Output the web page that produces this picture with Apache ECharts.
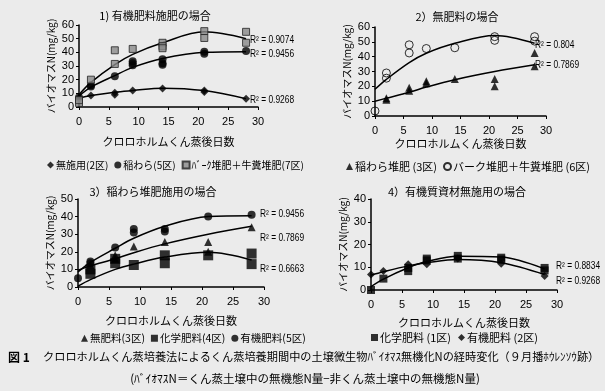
<!DOCTYPE html>
<html><head><meta charset="utf-8">
<script src="https://cdn.jsdelivr.net/npm/echarts@6/dist/echarts.min.js"></script>
<style>html,body{margin:0;padding:0;background:#ebebeb}#c{width:605px;height:391px}</style>
</head><body><div id="c"></div>
<script>
// ---- data ----
const fitX = [0, 2, 6, 9, 14, 21, 28];

// Panel 1
const p1NoneX = [0, 2, 6, 6, 9, 14, 21, 21, 28];
const p1NoneY = [6.5, 8.5, 10.5, 9, 12, 13.5, 12, 11, 6];
const p1StrawX = [0, 2, 2, 6, 9, 9, 9, 14, 14, 14, 21, 21, 28];
const p1StrawY = [7, 15, 16, 22.5, 33.5, 32, 30.5, 35, 32, 31, 40.5, 39, 41];
const p1BarkX = [0, 0, 2, 6, 6, 9, 14, 14, 14, 21, 21, 28, 28];
const p1BarkY = [3, 5, 20, 41.5, 31.5, 42.5, 47, 44.5, 43, 55.5, 50.5, 55, 47];
const p1NoneFit = [6.5, 8.4, 10.8, 12, 13.8, 12, 6];
const p1StrawFit = [8, 14.5, 23, 29, 35.5, 40, 40.5];
const p1BarkFit = [9, 18, 31, 38.5, 47, 55, 50];

// Panel 2
const p2BarkX = [0, 2, 2, 6, 6, 9, 14, 21, 21, 28, 28];
const p2BarkY = [3.4, 29, 25.5, 48, 42.5, 45.5, 46, 53.5, 51, 53.5, 50.5];
const p2StrawX = [2, 2, 6, 6, 9, 9, 14, 21, 21, 28, 28];
const p2StrawY = [12, 11, 19, 17, 23.5, 22, 25, 25, 20, 42.5, 33.5];
const p2BarkFit = [18, 24.7, 36, 42.3, 49, 54.3, 49];
const p2StrawFit = [10, 12, 16, 19.5, 24.5, 30, 34.5];

// Panel 3
const p3NoneX = [2, 6, 6, 9, 14, 21, 21, 28];
const p3NoneY = [12.5, 18, 16, 23, 25.5, 25.5, 20, 34];
const p3ChemX = [2, 2, 6, 6, 9, 14, 14, 21, 28, 28];
const p3ChemY = [10, 7.5, 16, 13.5, 12.5, 18, 13.5, 18, 19, 13];
const p3OrgX = [0, 2, 2, 6, 9, 9, 14, 14, 21, 28];
const p3OrgY = [5, 14.5, 13.5, 22.5, 33, 31, 33, 31.5, 40, 41];
const p3OrgFit = [8.5, 14, 22, 27.7, 34.5, 40, 40.5];
const p3NoneFit = [9.5, 12, 16, 19.5, 24.5, 30, 34.5];
const p3ChemFit = [0.5, 4.2, 10, 13, 17, 19.7, 15.3];

// Panel 4
const p4ChemX = [0, 2, 6, 6, 9, 9, 14, 14, 21, 21, 28, 28];
const p4ChemY = [0, 5, 9.7, 8.3, 13.8, 13, 15, 13.8, 14.2, 13.4, 9.7, 8.6];
const p4OrgX = [0, 2, 6, 9, 14, 21, 28];
const p4OrgY = [6.8, 8.3, 11.3, 11.3, 13.8, 11.5, 6.1];
const p4ChemFit = [1.5, 4.8, 9.8, 12.5, 14.8, 14.5, 9.3];
const p4OrgFit = [6.5, 8, 10.6, 12, 13.4, 12, 6.8];

const yMax = [60, 60, 50, 40];
const titles = ['1) 有機肥料施肥の場合', '2）無肥料の場合', '3）稲わら堆肥施用の場合', '4）有機質資材無施用の場合'];
const xName = 'クロロホルムくん蒸後日数';
const yName = 'バイオマスN(mg/kg)';

// ---- build ----
const JP = 'Noto Sans CJK JP';
const NUM = 'Liberation Sans';
const zip = (xs, ys) => xs.map((x, i) => [x, ys[i]]);
const grids = [
  {left: 79, top: 25, width: 179, height: 82},
  {left: 375, top: 27, width: 171, height: 89},
  {left: 78, top: 199, width: 186, height: 88},
  {left: 371, top: 199, width: 186, height: 91}
];
const xNameGap = [29, 22, 28, 27];
const xAxes = grids.map((g, i) => ({
  gridIndex: i, type: 'value', min: 0, max: 30, interval: 5,
  axisLine: {lineStyle: {color: '#000', width: 1.5}},
  axisTick: {length: 3, lineStyle: {color: '#000'}},
  splitLine: {show: false},
  axisLabel: {color: '#000', fontFamily: NUM, fontSize: 11, margin: 9},
  name: xName, nameLocation: 'middle', nameGap: xNameGap[i],
  nameTextStyle: {color: '#000', fontFamily: JP, fontSize: 11}
}));
const yAxes = grids.map((g, i) => ({
  gridIndex: i, type: 'value', min: 0, max: yMax[i], interval: 10,
  axisLine: {show: true, lineStyle: {color: '#000', width: 1.5}},
  axisTick: {show: true, length: 3, lineStyle: {color: '#000'}},
  splitLine: {show: false},
  axisLabel: {color: '#000', fontFamily: NUM, fontSize: 11, margin: 5},
  name: yName, nameLocation: 'middle', nameRotate: 90, nameGap: 23,
  nameTextStyle: {color: '#000', fontFamily: JP, fontSize: 10}
}));
function sc(name, i, xs, ys, symbol, size, extra) {
  return Object.assign({name, type: 'scatter', xAxisIndex: i, yAxisIndex: i, data: zip(xs, ys),
    symbol, symbolSize: size, itemStyle: {color: '#000'}, z: 3}, extra || {});
}
function fit(name, i, ys) {
  return {name, type: 'line', xAxisIndex: i, yAxisIndex: i, data: zip(fitX, ys), smooth: 0.35,
    showSymbol: false, symbol: 'none', lineStyle: {color: '#000', width: 1.5}, z: 2, silent: true};
}
const barkStyle = {itemStyle: {color: '#8a8a8a', borderColor: '#222', borderWidth: 1}};
const series = [
  sc('無施用(2区)', 0, p1NoneX, p1NoneY, 'diamond', 8),
  sc('稲わら(5区)', 0, p1StrawX, p1StrawY, 'circle', 8),
  sc('ﾊﾞｰｸ堆肥＋牛糞堆肥(7区)', 0, p1BarkX, p1BarkY, 'rect', 7, barkStyle),
  fit('f1a', 0, p1NoneFit), fit('f1b', 0, p1StrawFit), fit('f1c', 0, p1BarkFit),
  sc('稲わら堆肥 (3区)', 1, p2StrawX, p2StrawY, 'triangle', 8),
  sc('バーク堆肥＋牛糞堆肥 (6区)', 1, p2BarkX, p2BarkY, 'circle', 8,
    {itemStyle: {color: 'rgba(0,0,0,0)', borderColor: '#000', borderWidth: 1}}),
  fit('f2a', 1, p2BarkFit), fit('f2b', 1, p2StrawFit),
  sc('無肥料(3区)', 2, p3NoneX, p3NoneY, 'triangle', 8),
  sc('化学肥料(4区)', 2, p3ChemX, p3ChemY, 'rect', 10),
  sc('有機肥料(5区)', 2, p3OrgX, p3OrgY, 'circle', 8),
  fit('f3a', 2, p3OrgFit), fit('f3b', 2, p3NoneFit), fit('f3c', 2, p3ChemFit),
  sc('化学肥料 (1区)', 3, p4ChemX, p4ChemY, 'rect', 8),
  sc('有機肥料 (2区)', 3, p4OrgX, p4OrgY, 'diamond', 8),
  fit('f4a', 3, p4ChemFit), fit('f4b', 3, p4OrgFit)
];
const lg = (left, top, data, gap, fs) => ({left, top, width: 400, data, itemWidth: 7, itemHeight: 7, itemGap: gap,
  textStyle: {color: '#000', fontFamily: JP, fontSize: fs, padding: [0, 0, 0, -3]}, selectedMode: false});
const legends = [
  lg(42, 155, ['無施用(2区)', '稲わら(5区)', 'ﾊﾞｰｸ堆肥＋牛糞堆肥(7区)'], 6, 10),
  lg(341, 156, ['稲わら堆肥 (3区)', 'バーク堆肥＋牛糞堆肥 (6区)'], 6, 11),
  lg(76, 328, ['無肥料(3区)', '化学肥料(4区)', '有機肥料(5区)'], 6, 10.5),
  lg(366, 327, ['化学肥料 (1区)', '有機肥料 (2区)'], 7, 11)
];
const RF = '10px "Liberation Sans"';
const t = (x, y, text, opt, sx) => ({type: 'text', x, y, scaleX: sx || 1, style: Object.assign({text, fill: '#000',
  font: RF, textAlign: 'left', textVerticalAlign: 'middle'}, opt || {})});
const r2 = (x, y, text) => t(x, y, text, null, 0.84);
const TF = '11px "Noto Sans CJK JP"';
const graphic = [
  t(155, 16, titles[0], {font: TF, textAlign: 'center'}),
  t(457, 17, titles[1], {font: TF, textAlign: 'center'}),
  t(153, 192, titles[2], {font: TF, textAlign: 'center'}),
  t(457, 192, titles[3], {font: TF, textAlign: 'center'}),
  r2(250, 40, 'R² = 0.9074'), r2(250, 54, 'R² = 0.9456'), r2(250, 100, 'R² = 0.9268'),
  r2(535, 45, 'R² = 0.804'), r2(535, 65, 'R² = 0.7869'),
  r2(260, 214, 'R² = 0.9456'), r2(260, 238, 'R² = 0.7869'), r2(260, 269, 'R² = 0.6663'),
  r2(556, 266, 'R² = 0.8834'), r2(556, 281, 'R² = 0.9268'),
  t(8, 357, '図 1', {font: 'bold 12px "Noto Sans CJK JP"'}),
  t(43, 357, 'クロロホルムくん蒸培養法によるくん蒸培養期間中の土壌微生物ﾊﾞｲｵﾏｽ無機化Nの経時変化（９月播ﾎｳﾚﾝｿｳ跡）', {font: '11.2px "Noto Sans CJK JP"'}),
  t(305, 379, '(ﾊﾞｲｵﾏｽN＝くん蒸土壌中の無機態N量−非くん蒸土壌中の無機態N量)', {font: '11.5px "Noto Sans CJK JP"', textAlign: 'center'})
];
const chart = echarts.init(document.getElementById('c'), null, {renderer: 'canvas'});
chart.setOption({
  backgroundColor: '#ebebeb', animation: false,
  grid: grids, xAxis: xAxes, yAxis: yAxes, series, legend: legends, graphic
});
</script></body></html>
